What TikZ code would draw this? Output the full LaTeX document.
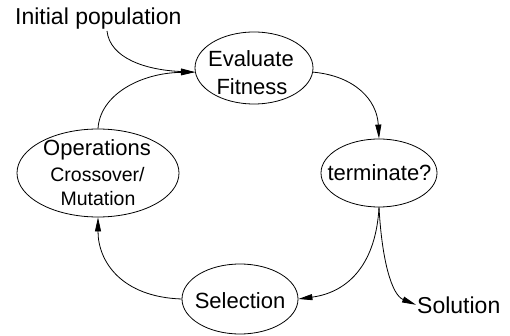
\documentclass[tikz,border=0pt]{standalone}
\usepackage{fontspec}
\setmainfont{Liberation Sans}
\usetikzlibrary{shapes.geometric,arrows.meta}
\begin{document}
\begin{tikzpicture}[x=1pt,y=-1pt,
  ell/.style={draw,ellipse,inner sep=0pt,line width=0.8pt},
  txt/.style={inner sep=0pt,anchor=base,font=\fontsize{22}{26}\selectfont},
  small/.style={inner sep=0pt,anchor=base,font=\fontsize{19.5}{23}\selectfont},
  conn/.style={line width=0.8pt,-{Triangle[length=14pt,width=6pt]}}]
\useasboundingbox (0,0) rectangle (510,336);
% ellipses
\node[ell,minimum width=118pt,minimum height=72pt] (eval) at (254,68) {};
\node[ell,minimum width=116pt,minimum height=68pt] (term) at (379,173) {};
\node[ell,minimum width=162pt,minimum height=88pt] (ops) at (98,173) {};
\node[ell,minimum width=116pt,minimum height=70pt] (sel) at (240,299) {};
% texts
\node[txt,anchor=base west,font=\fontsize{23}{27}\selectfont] (init) at (15,25) {Initial population};
\node[txt] (evalA) at (251,67) {Evaluate};
\node[txt] (evalB) at (252,95) {Fitness};
\node[txt] (termT) at (379.5,181) {terminate?};
\node[txt] (opsA) at (97,156) {Operations};
\node[small] (opsB) at (97.5,182) {Crossover/};
\node[small] (opsC) at (98,206) {Mutation};
\node[txt] (selT) at (240,308) {Selection};
\node[txt,anchor=base west,font=\fontsize{23}{27}\selectfont,inner sep=1pt] (sol) at (416,313) {Solution};
\coordinate (initout) at (107,31);
% connectors
\draw[conn] (initout) .. controls (110,58) and (145,70) .. (eval.184);
\draw[conn] (ops.north) .. controls (100,95) and (140,73) .. (eval.184);
\draw[conn] (eval.-4) .. controls (355,76) and (377,100) .. (term.north);
\draw[conn] (term.south) .. controls (376,262) and (350,292) .. (sel.east);
\draw[conn] (term.south) .. controls (382,262) and (392,295) .. (sol.west);
\draw[conn] (sel.west) .. controls (122,297) and (98,262) .. (ops.south);
\end{tikzpicture}
\end{document}
